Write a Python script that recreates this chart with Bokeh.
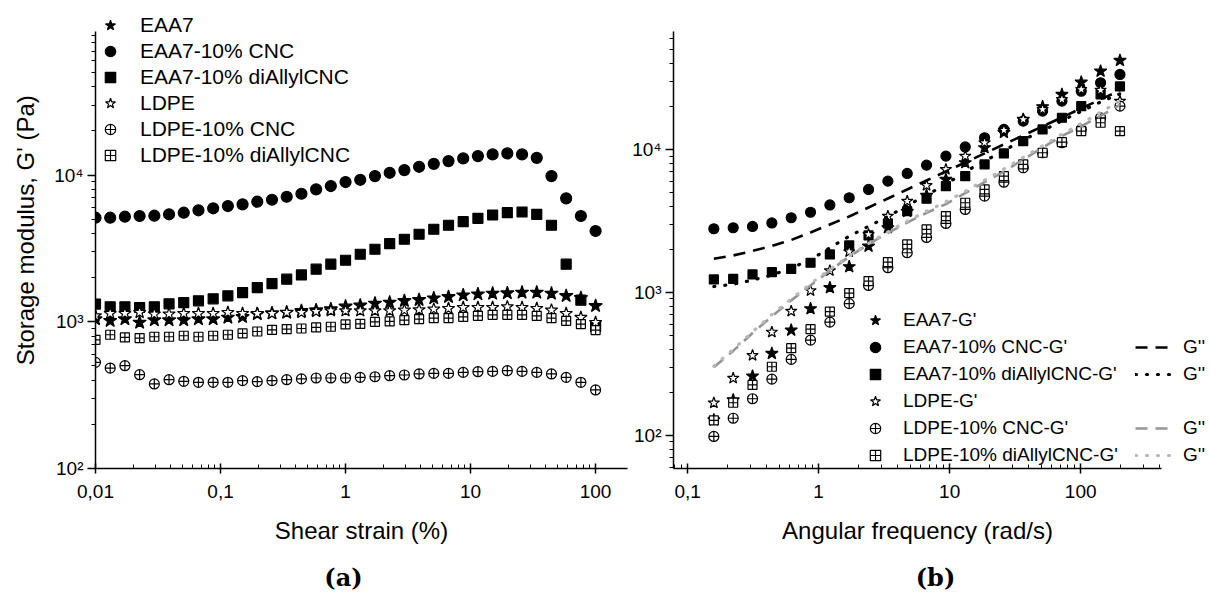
import math
from bokeh.plotting import figure
from bokeh.models import (Range1d, FixedTicker, CustomJSTickFormatter, Legend,
                          LegendItem, Label)
from bokeh.layouts import row, column
from bokeh.embed import file_html
from bokeh.resources import INLINE

FONT = "Liberation Sans"

# ---------------- (a) amplitude (strain) sweep ----------------
strain = [0.01, 0.01311, 0.01719, 0.02254, 0.02955, 0.03875, 0.0508, 0.06661,
          0.08733, 0.1145, 0.1501, 0.1968, 0.2581, 0.3384, 0.4437, 0.5817,
          0.7627, 1.0, 1.311, 1.719, 2.254, 2.955, 3.875, 5.08, 6.661, 8.733,
          11.45, 15.01, 19.68, 25.81, 33.84, 44.37, 58.17, 76.27, 100.0]

a_eaa7 = [1043, 1016, 1043, 989, 1027, 1027, 1027, 1043, 1043, 1070, 1081, 1128,
          1146, 1157, 1188, 1201, 1220, 1275, 1295, 1332, 1353, 1389, 1411, 1449,
          1479, 1519, 1543, 1558, 1568, 1583, 1583, 1558, 1503, 1457, 1285]
a_eaa7_cnc = [5122, 5122, 5204, 5261, 5286, 5403, 5540, 5753, 5937, 6153, 6319,
              6583, 6792, 7118, 7462, 7993, 8418, 8964, 9290, 9845, 10367, 10814,
              11388, 11935, 12451, 12990, 13468, 13828, 14047, 13828, 13114,
              9845, 6942, 5261, 4159]
a_eaa7_diallyl = [1320, 1265, 1265, 1251, 1265, 1326, 1353, 1389, 1434, 1503,
                  1583, 1712, 1822, 1952, 2088, 2283, 2469, 2628, 2887, 3123,
                  3409, 3652, 3951, 4272, 4549, 4813, 5075, 5345, 5541, 5602,
                  5403, 4549, 2469, 1405, 925]
a_ldpe = [1098, 1139, 1139, 1157, 1128, 1128, 1139, 1139, 1139, 1157, 1139, 1139,
          1139, 1157, 1157, 1175, 1188, 1188, 1188, 1188, 1188, 1201, 1207, 1220,
          1232, 1251, 1251, 1251, 1265, 1251, 1232, 1201, 1139, 1070, 989]
a_ldpe_cnc = [529, 484, 502, 436, 377, 403, 393, 387, 387, 387, 397, 391, 397,
              403, 408, 414, 414, 414, 418, 422, 429, 434, 441, 445, 445, 452,
              457, 459, 464, 459, 452, 441, 418, 387, 343]
a_ldpe_diallyl = [754, 816, 782, 775, 791, 791, 803, 791, 803, 816, 833, 859, 882,
                  892, 900, 915, 925, 959, 969, 1000, 1005, 1027, 1043, 1060,
                  1060, 1081, 1098, 1116, 1116, 1116, 1098, 1060, 1016, 965, 878]

a_xtick_labels = ["0,01", "0,1", "1", "10", "100"]
ytick_labels = ["10²", "10³", "10⁴"]
series_names = ["EAA7", "EAA7-10% CNC", "EAA7-10% diAllylCNC", "LDPE",
                "LDPE-10% CNC", "LDPE-10% diAllylCNC"]

# ---------------- (b) frequency sweep ----------------
freq = [0.1585, 0.2227, 0.3128, 0.4393, 0.6172, 0.867, 1.218, 1.711, 2.403,
        3.376, 4.742, 6.662, 9.359, 13.15, 18.47, 25.94, 36.44, 51.19, 71.92,
        101.0, 141.9, 199.4]

b_eaa7 = [128.4, 177.1, 259.8, 374.5, 544.9, 769.2, 1079, 1512, 2107, 2834, 3685,
          4768, 6169, 8072, 10280, 13150, 16210, 19890, 24250, 29560, 35280, 41920]
b_eaa7_cnc = [2790, 2834, 2894, 3062, 3330, 3638, 4092, 4595, 5252, 6003, 6795,
              7767, 8977, 10411, 12072, 13800, 15776, 18530, 21770, 25560, 29280,
              33460]
b_eaa7_diallyl = [1233, 1243, 1336, 1387, 1460, 1613, 1844, 2132, 2503, 3038,
                  3703, 4522, 5538, 6508, 7856, 9377, 11430, 13800, 16670, 20090,
                  24250, 27580]
b_ldpe = [168.8, 251.2, 362.5, 527.8, 740, 1029, 1420, 1929, 2544, 3417, 4350,
          5602, 7248, 8977, 11140, 13650, 16210, 19050, 22370, 26280, 25980, 21770]
b_ldpe_cnc = [98.4, 131.9, 180.5, 247.5, 340.1, 463.8, 619.8, 835.1, 1119, 1488,
              1895, 2425, 3038, 3805, 4714, 5905, 7447, 9483, 11140, 13800, 16670,
              20090]
b_ldpe_diallyl = [127.3, 169.3, 225.5, 302.2, 407.3, 553.7, 734.1, 988.8, 1200,
                  1629, 2166, 2758, 3417, 4240, 5252, 6508, 7856, 9483, 11250,
                  13430, 15380, 13430]

# loss moduli G''
b2_eaa7_cnc = [1721, 1814, 1951, 2114, 2328, 2628, 2989, 3400, 3930, 4540, 5250,
               6070, 7020, 8110, 9390, 10850, 12540, 14500, 16770, 19390, 22410,
               25850]
b2_eaa7_diallyl = [1100, 1140, 1220, 1320, 1480, 1700, 2050, 2476, 2900, 3400,
                   4050, 4800, 5700, 7000, 8300, 9800, 11700, 13500, 15900, 18500,
                   21500, 24500]
b2_ldpe_cnc = [300, 390, 520, 680, 880, 1120, 1420, 1780, 2180, 2600, 3080, 3600,
               4150, 4950, 5900, 7000, 8500, 10300, 12400, 14500, 17200, 20500]
b2_ldpe_diallyl = [305, 400, 530, 700, 900, 1150, 1450, 1800, 2200, 2650, 3150,
                   3700, 4300, 5100, 6100, 7300, 8800, 10600, 12800, 15200, 18200,
                   21800]

b_xtick_labels = ["0,1", "1", "10", "100"]
gp_suffix = "-G'"
gpp_label = "G''"

# axis extents (where each drawn axis starts / ends)
a_xbounds = (0.01, 180)
a_ybounds = (100, 95000)
b_xbounds = (0.078, 415)
b_ybounds = (58.7, 66800)

# ---------------- styling ----------------
marker_styles = [
    dict(marker="star", fill_color="black"),
    dict(marker="circle", fill_color="black"),
    dict(marker="square", fill_color="black"),
    dict(marker="star", fill_color="white"),
    dict(marker="circle_cross", fill_color="white"),
    dict(marker="square_cross", fill_color="white"),
]
sizes_a = [14, 11, 10, 13, 10, 9]
sizes_b = [13, 10, 9, 12, 10, 9]


def minor_list(bounds):
    lo, hi = bounds
    e0, e1 = math.floor(math.log10(lo)), math.ceil(math.log10(hi))
    return [m * 10.0 ** e for e in range(e0, e1) for m in range(2, 10)
            if lo <= m * 10.0 ** e <= hi]


def log_formatter(labels, e0):
    return CustomJSTickFormatter(args=dict(labels=labels, e0=e0), code="""
        const i = Math.round(Math.log10(tick)) - e0;
        return (i >= 0 && i < labels.length) ? labels[i] : "";
    """)


def style(p, xticks, xlabels, xe0, xbounds, ybounds):
    p.outline_line_color = None
    p.xgrid.visible = False
    p.ygrid.visible = False
    p.background_fill_color = "white"
    p.border_fill_color = "white"
    for ax in (p.xaxis[0], p.yaxis[0]):
        ax.axis_line_width = 1.5
        ax.axis_line_color = "black"
        ax.major_tick_line_width = 1.5
        ax.major_tick_line_color = "black"
        ax.minor_tick_line_width = 1
        ax.minor_tick_line_color = "black"
        ax.major_label_text_font = FONT
        ax.major_label_text_font_size = "19px"
        ax.major_label_text_color = "black"
    xa = p.xaxis[0]
    xa.bounds = xbounds
    xa.ticker = FixedTicker(ticks=xticks, minor_ticks=minor_list(xbounds))
    xa.formatter = log_formatter(xlabels, xe0)
    xa.major_tick_in = 5
    xa.major_tick_out = 5
    xa.minor_tick_in = 4
    xa.minor_tick_out = 0
    xa.major_label_standoff = 11
    ya = p.yaxis[0]
    ya.bounds = ybounds
    ya.ticker = FixedTicker(ticks=[1e2, 1e3, 1e4], minor_ticks=minor_list(ybounds))
    ya.formatter = log_formatter(ytick_labels, 2)
    ya.major_tick_in = 0
    ya.major_tick_out = 8
    ya.minor_tick_in = 0
    ya.minor_tick_out = 4
    ya.major_label_standoff = 4


def blank_strip(w, h):
    s = figure(width=w, height=h, x_range=Range1d(0, w), y_range=Range1d(0, h),
               x_axis_location=None, y_axis_location=None, min_border=0,
               toolbar_location=None, output_backend="svg")
    s.outline_line_color = None
    s.xgrid.visible = False
    s.ygrid.visible = False
    s.background_fill_color = "white"
    s.border_fill_color = "white"
    return s


# ---------------- figure (a) ----------------
pa = figure(width=578, height=515, x_axis_type="log", y_axis_type="log",
            x_range=Range1d(0.01, 180), y_range=Range1d(100, 143200),
            min_border_left=45, min_border_right=1, min_border_top=5,
            min_border_bottom=47, toolbar_location=None, output_backend="svg")
style(pa, [0.01, 0.1, 1, 10, 100], a_xtick_labels, -2, a_xbounds, a_ybounds)

a_data = [a_eaa7, a_eaa7_cnc, a_eaa7_diallyl, a_ldpe, a_ldpe_cnc, a_ldpe_diallyl]
a_items = []
for name, ys, st, sz in zip(series_names, a_data, marker_styles, sizes_a):
    r = pa.scatter(strain, ys, size=sz, line_color="black", line_width=1.2, **st)
    a_items.append(LegendItem(label=name, renderers=[r]))

leg_a = Legend(items=a_items, location=(1, 300), orientation="vertical",
               label_text_font=FONT, label_text_font_size="21px",
               label_text_color="black",
               glyph_width=28, glyph_height=26, label_height=26, spacing=0,
               label_standoff=16, padding=0, margin=0, border_line_color=None,
               background_fill_alpha=0)
pa.add_layout(leg_a)

# ---------------- figure (b) ----------------
pb = figure(width=582, height=515, x_axis_type="log", y_axis_type="log",
            x_range=Range1d(0.078, 929), y_range=Range1d(58.7, 101600),
            min_border_left=45, min_border_right=3, min_border_top=5,
            min_border_bottom=47, toolbar_location=None, output_backend="svg")
style(pb, [0.1, 1, 10, 100], b_xtick_labels, -1, b_xbounds, b_ybounds)

b_data = [b_eaa7, b_eaa7_cnc, b_eaa7_diallyl, b_ldpe, b_ldpe_cnc, b_ldpe_diallyl]
b_items = []
for name, ys, st, sz in zip(series_names, b_data, marker_styles, sizes_b):
    r = pb.scatter(freq, ys, size=sz, line_color="black", line_width=1.2, **st)
    b_items.append(LegendItem(label=name + gp_suffix, renderers=[r]))

r_d1 = pb.line(freq, b2_eaa7_cnc, line_color="black", line_width=2.6,
               line_dash="12 8")
r_d2 = pb.line(freq, b2_eaa7_diallyl, line_color="black", line_width=3.2,
               line_dash="1 10", line_cap="round")
r_d3 = pb.line(freq, b2_ldpe_cnc, line_color="#959595", line_width=2.6,
               line_dash="12 8")
r_d4 = pb.line(freq, b2_ldpe_diallyl, line_color="#b8b8b8", line_width=3.2,
               line_dash="1 10", line_cap="round")
blank = pb.line(x=[], y=[], line_alpha=0)

leg_common = dict(orientation="vertical", label_text_font=FONT,
                  label_text_font_size="19px", label_text_color="black",
                  glyph_height=26, label_height=26,
                  spacing=1, padding=0, margin=0, border_line_color=None,
                  background_fill_alpha=0)
leg_b1 = Legend(items=b_items, location=(189, 0), glyph_width=26,
                label_standoff=15, **leg_common)
leg_b2 = Legend(items=[LegendItem(label=" ", renderers=[blank]),
                       LegendItem(label=gpp_label, renderers=[r_d1]),
                       LegendItem(label=gpp_label, renderers=[r_d2]),
                       LegendItem(label=" ", renderers=[blank]),
                       LegendItem(label=gpp_label, renderers=[r_d3]),
                       LegendItem(label=gpp_label, renderers=[r_d4])],
                location=(462, 0), glyph_width=38, label_standoff=10, **leg_common)
pb.add_layout(leg_b1)
pb.add_layout(leg_b2)

# ---------------- axis titles and panel captions ----------------
ystrip = blank_strip(50, 515)
ystrip.add_layout(Label(x=25, y=265, text="Storage modulus, G' (Pa)",
                        angle=math.pi / 2, text_align="center",
                        text_baseline="middle", text_font=FONT,
                        text_font_size="24px", text_color="black"))

cap = blank_strip(1210, 77)
for txt, cx, cy, fnt, fs, fst in [
        ("Shear strain (%)", 361, 62, FONT, "24px", "normal"),
        ("Angular frequency (rad/s)", 917, 62, FONT, "24px", "normal"),
        ("(a)", 343, 15, "DejaVu Serif", "24px", "bold"),
        ("(b)", 935, 15, "DejaVu Serif", "24px", "bold")]:
    cap.add_layout(Label(x=cx, y=cy, text=txt, text_align="center",
                         text_baseline="middle", text_font=fnt,
                         text_font_size=fs, text_font_style=fst,
                         text_color="black"))

layout = column(row(ystrip, pa, pb), cap)
open("out.html", "w").write(file_html(layout, INLINE))
